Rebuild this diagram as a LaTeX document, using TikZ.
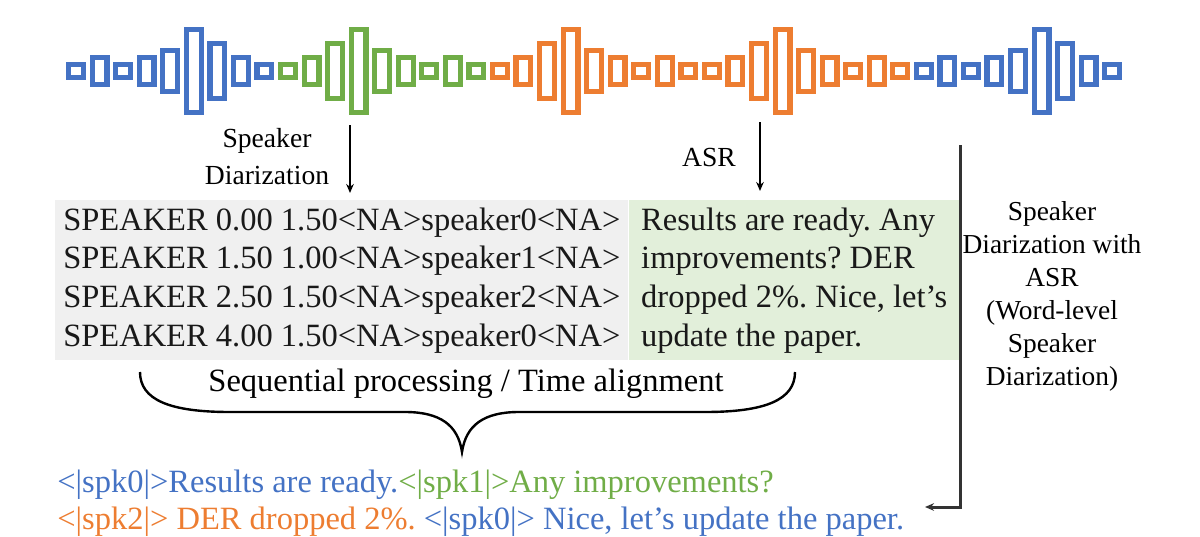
\documentclass[tikz,border=0pt]{standalone}
\usepackage{fontspec}
\setmainfont{Liberation Serif}
\usepackage{tikz}
\usetikzlibrary{arrows.meta,positioning}
\definecolor{spk-blue}{HTML}{4472C4}
\definecolor{spk-green}{HTML}{70AD47}
\definecolor{spk-orange}{HTML}{ED7D31}
\definecolor{box-gray}{HTML}{F0F0F0}
\definecolor{box-green}{HTML}{E2EFDA}
\frenchspacing
\tikzset{
  wavebar/.style={line width=2.6pt},
  textbox/.style={align=left, minimum height=80pt, inner ysep=0pt,
    font=\fontsize{16.25pt}{19.35pt}\selectfont},
  tag/.style={align=center, font=\fontsize{13.8pt}{18.5pt}\selectfont},
  flow/.style={line width=1pt, ->},
}

\begin{document}
\begin{tikzpicture}[x=0.5pt, y=-0.5pt, >={Stealth[length=4.5pt,width=3.8pt]}]
    \useasboundingbox (0,0) rectangle (1200,536);
    % waveform, one colour per speaker
    \foreach \h [count=\k from 0] in {9,16,9,16,23,44,30,16,9}
        \draw[wavebar, spk-blue] (76+23.55*\k-7.4,71-\h+2.6) rectangle (76+23.55*\k+7.4,71+\h-2.6);
    \foreach \h [count=\k from 9] in {9,16,30,44,23,16,9,16,9}
        \draw[wavebar, spk-green] (76+23.55*\k-7.4,71-\h+2.6) rectangle (76+23.55*\k+7.4,71+\h-2.6);
    \foreach \h [count=\k from 18] in {9,16,30,44,23,16,9,16,9,9,16,30,44,23,16,9,16,9}
        \draw[wavebar, spk-orange] (76+23.55*\k-7.4,71-\h+2.6) rectangle (76+23.55*\k+7.4,71+\h-2.6);
    \foreach \h [count=\k from 36] in {9,16,9,16,23,44,30,16,9}
        \draw[wavebar, spk-blue] (76+23.55*\k-7.4,71-\h+2.6) rectangle (76+23.55*\k+7.4,71+\h-2.6);

    % the two outputs
    \node[textbox, fill=box-gray, anchor=north west, minimum width=286.5pt, inner xsep=2.5pt, text=black!90] (diar) at (55,200)
        {SPEAKER 0.00 1.50<NA>speaker0<NA>\\
         SPEAKER 1.50 1.00<NA>speaker1<NA>\\
         SPEAKER 2.50 1.50<NA>speaker2<NA>\\
         SPEAKER 4.00 1.50<NA>speaker0<NA>};
    \node[textbox, fill=box-green, right=0pt of diar, minimum width=165pt, inner xsep=5pt, text=black!90] (asr)
        {Results are ready. Any\\
         improvements? DER\\
         dropped 2\%. Nice, let's\\
         update the paper.};

    \node[tag] (sdlabel) at (267,157) {Speaker\\Diarization};
    \node[tag] (asrlabel) at (709,157) {ASR};
    \coordinate (sdtop) at (350,125);
    \coordinate (asrtop) at (760,122);
    \draw[flow, shorten >=3.5pt] (sdtop) -- (sdtop |- diar.north);
    \draw[flow, shorten >=4.5pt] (asrtop) -- (asrtop |- asr.north);

    % brace
    \draw[line width=1.2pt] (140,372) .. controls (140,400) and (170,412) .. (230,412) -- (405,412)
        .. controls (440,412) and (458,425) .. (462,452)
        .. controls (466,425) and (484,412) .. (519,412) -- (705,412)
        .. controls (765,412) and (795,400) .. (795,372);
    \node[font=\fontsize{16.25pt}{19.35pt}\selectfont] (seq) at (466,384) {Sequential processing / Time alignment};

    % word-level result
    \node[anchor=west, inner sep=0pt, font=\fontsize{16.25pt}{19.35pt}\selectfont] (out1) at (57,485)
        {{\color{spk-blue}<|spk0|>Results are ready.}{\color{spk-green}<|spk1|>Any improvements?}};
    \node[anchor=west, inner sep=0pt, font=\fontsize{16.25pt}{19.35pt}\selectfont] (out2) at (57,522)
        {{\color{spk-orange}<|spk2|> DER dropped 2\%.} {\color{spk-blue}<|spk0|> Nice, let's update the paper.}};

    \node[tag, font=\fontsize{13.7pt}{16.5pt}\selectfont] (wdlabel) at (1052,296)
        {Speaker\\Diarization with\\ASR\\(Word-level\\Speaker\\Diarization)};
    \coordinate (wdtop) at (960,145);
    \coordinate (wdend) at (925,507);
    \draw[flow, line width=1.5pt, black!80] (wdtop) |- (wdend);
\end{tikzpicture}
\end{document}
